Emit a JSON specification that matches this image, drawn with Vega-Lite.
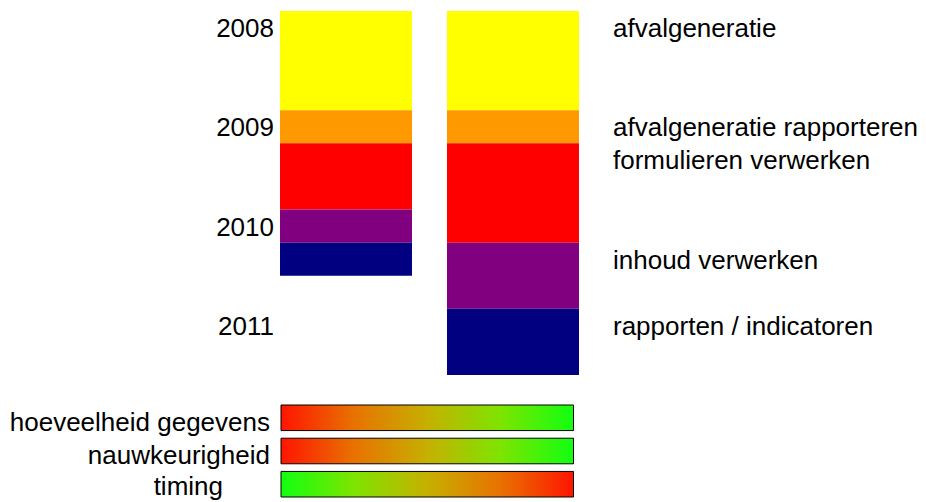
{
  "$schema": "https://vega.github.io/schema/vega-lite/v6.json",
  "width": 926,
  "height": 502,
  "padding": 0,
  "autosize": {"type": "none"},
  "background": "white",
  "config": {"view": {"stroke": null}, "text": {"font": "Liberation Sans", "fontSize": 26}},
  "datasets": {
    "fasen": [
      {"kolom": "A", "fase": "afvalgeneratie", "start": 0, "eind": 12},
      {"kolom": "A", "fase": "afvalgeneratie rapporteren", "start": 12, "eind": 16},
      {"kolom": "A", "fase": "formulieren verwerken", "start": 16, "eind": 24},
      {"kolom": "A", "fase": "inhoud verwerken", "start": 24, "eind": 28},
      {"kolom": "A", "fase": "rapporten / indicatoren", "start": 28, "eind": 32},
      {"kolom": "B", "fase": "afvalgeneratie", "start": 0, "eind": 12},
      {"kolom": "B", "fase": "afvalgeneratie rapporteren", "start": 12, "eind": 16},
      {"kolom": "B", "fase": "formulieren verwerken", "start": 16, "eind": 28},
      {"kolom": "B", "fase": "inhoud verwerken", "start": 28, "eind": 36},
      {"kolom": "B", "fase": "rapporten / indicatoren", "start": 36, "eind": 44}
    ],
    "jaren": [
      {"kolom": "A", "jaar": "2008", "maand": 0},
      {"kolom": "A", "jaar": "2009", "maand": 12},
      {"kolom": "A", "jaar": "2010", "maand": 24},
      {"kolom": "A", "jaar": "2011", "maand": 36}
    ],
    "criteria": [
      {"criterium": "hoeveelheid gegevens", "van": 0, "tot": 1, "richting": "stijgend"},
      {"criterium": "nauwkeurigheid", "van": 0, "tot": 1, "richting": "stijgend"},
      {"criterium": "timing", "van": 0, "tot": 1, "richting": "dalend"}
    ]
  },
  "layer": [
    {
      "layer": [
        {
          "data": {"name": "fasen"},
          "mark": {"type": "rect"},
          "encoding": {
            "x": {"field": "kolom", "type": "nominal", "axis": null,
                  "scale": {"domain": ["A", "B"], "range": [280, 579], "paddingInner": 0.2096, "paddingOuter": 0}},
            "y": {"field": "start", "type": "quantitative", "axis": null,
                  "scale": {"domain": [0, 44], "range": [11, 375], "nice": false, "zero": false}},
            "y2": {"field": "eind"},
            "color": {"field": "fase", "type": "nominal", "legend": null,
                      "scale": {"domain": ["afvalgeneratie", "afvalgeneratie rapporteren", "formulieren verwerken", "inhoud verwerken", "rapporten / indicatoren"],
                                "range": ["#ffff00", "#ff9900", "#ff0000", "#800080", "#000080"]}}
          }
        },
        {
          "data": {"name": "jaren"},
          "mark": {"type": "text", "align": "right", "baseline": "alphabetic", "dx": -6, "dy": 26},
          "encoding": {
            "x": {"field": "kolom", "type": "nominal", "bandPosition": 0},
            "y": {"field": "maand", "type": "quantitative"},
            "text": {"field": "jaar"}
          }
        },
        {
          "data": {"name": "fasen"},
          "transform": [{"filter": "datum.kolom === 'B'"}],
          "mark": {"type": "text", "align": "left", "baseline": "alphabetic", "dx": 34, "dy": 26},
          "encoding": {
            "x": {"field": "kolom", "type": "nominal", "bandPosition": 1},
            "y": {"field": "start", "type": "quantitative"},
            "text": {"field": "fase"}
          }
        }
      ]
    },
    {
      "data": {"name": "criteria"},
      "encoding": {
        "x": {"field": "van", "type": "quantitative", "axis": null,
              "scale": {"domain": [0, 1], "range": [281, 573.5], "nice": false, "zero": false}},
        "y": {"field": "criterium", "type": "nominal", "axis": null,
              "scale": {"domain": ["hoeveelheid gegevens", "nauwkeurigheid", "timing"], "range": [405, 497], "paddingInner": 0.23, "paddingOuter": 0}}
      },
      "layer": [
        {
          "transform": [{"filter": "datum.richting === 'stijgend'"}],
          "mark": {"type": "rect", "stroke": "black", "strokeWidth": 1,
                   "fill": {"gradient": "linear", "x1": 0, "x2": 1, "y1": 0, "y2": 0,
                            "stops": [{"offset": 0, "color": "#ff1500"}, {"offset": 0.25, "color": "#e87200"}, {"offset": 0.5, "color": "#c6b000"}, {"offset": 0.75, "color": "#7ee400"}, {"offset": 1, "color": "#12ff12"}]}},
          "encoding": {"x2": {"field": "tot"}}
        },
        {
          "transform": [{"filter": "datum.richting === 'dalend'"}],
          "mark": {"type": "rect", "stroke": "black", "strokeWidth": 1,
                   "fill": {"gradient": "linear", "x1": 1, "x2": 0, "y1": 0, "y2": 0,
                            "stops": [{"offset": 0, "color": "#ff1500"}, {"offset": 0.25, "color": "#e87200"}, {"offset": 0.5, "color": "#c6b000"}, {"offset": 0.75, "color": "#7ee400"}, {"offset": 1, "color": "#12ff12"}]}},
          "encoding": {"x2": {"field": "tot"}}
        },
        {
          "transform": [{"filter": "datum.criterium !== 'timing'"}],
          "mark": {"type": "text", "align": "right", "baseline": "alphabetic", "dx": -11, "dy": 0},
          "encoding": {
            "y": {"field": "criterium", "type": "nominal", "bandPosition": 1},
            "text": {"field": "criterium"}
          }
        },
        {
          "transform": [{"filter": "datum.criterium === 'timing'"}],
          "mark": {"type": "text", "align": "right", "baseline": "alphabetic", "dx": -58, "dy": -2},
          "encoding": {
            "y": {"field": "criterium", "type": "nominal", "bandPosition": 1},
            "text": {"field": "criterium"}
          }
        }
      ]
    }
  ],
  "resolve": {"scale": {"x": "independent", "y": "independent", "color": "independent"}}
}
